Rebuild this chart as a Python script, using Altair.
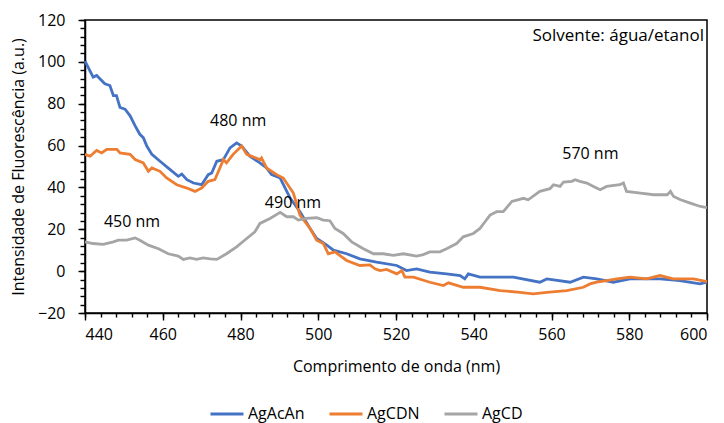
import altair as alt
import pandas as pd

# AgAcAn (blue)
acan_x = [440, 442.1, 443, 445.1, 446.4, 447.3, 448.1, 449, 450.3, 451.6, 452.9, 454.1, 455, 455.9,
          457.2, 459.3, 461.9, 464, 464.9, 466.2, 467.9, 470, 471.7, 472.6, 473.9, 475.6, 477.3, 479,
          480.3, 482.4, 485, 486.7, 488, 490.2, 492.8, 495.3, 497.9, 499.6, 502.2, 503.9, 507.3,
          510.7, 515, 520.2, 522.7, 525.3, 528.7, 533, 536.5, 537.7, 538.6, 541.6, 545.9, 550.2,
          557, 558.8, 564.8, 568.2, 571.6, 575.9, 580.2, 587.9, 593, 598.2, 600]
acan_y = [100.4, 92.7, 93.5, 89.5, 88.7, 83.9, 83.9, 78.2, 77.4, 74.2, 69.4, 65.4, 63.8, 59.8,
          55.8, 52.5, 48.5, 45.3, 46.4, 43.7, 42.1, 41.3, 46.1, 46.9, 52.5, 53.3, 58.9, 61.3,
          59.8, 54.9, 51.7, 49.3, 46.1, 44.5, 34.8, 28.4, 20.4, 15.6, 12.4, 10.0, 8.3,
          5.9, 4.3, 2.7, 0.3, 1.1, -0.5, -1.3, -2.1, -3.7, -1.3, -2.9, -2.9, -2.9,
          -5.3, -3.7, -5.3, -2.9, -3.7, -5.3, -3.7, -3.7, -4.5, -6.1, -5.3]

# AgCDN (orange)
cdn_x = [440, 441.3, 443, 444.3, 445.6, 448.2, 449, 451.6, 452.9, 455, 456.3, 457.2, 459.3, 461,
         463.6, 466.2, 468.3, 470, 471.7, 473.4, 474.7, 475.6, 476.4, 478.1, 480.3, 481.6, 485,
         485.4, 486.7, 489.3, 491, 493.6, 495.3, 497.9, 499.6, 501.3, 502.6, 504.3, 507.3, 510.7,
         513.3, 514.6, 515.9, 517.6, 520.2, 521.5, 522.3, 524.5, 528.7, 532.2, 533.5, 537.3,
         541.6, 546.8, 551.9, 555.3, 558.8, 563.9, 568.2, 569.9, 571.6, 574.2, 576.8, 580.2,
         584.5, 587.9, 591.3, 596.5, 600]
cdn_y = [55.8, 54.9, 57.7, 56.5, 58.2, 58.2, 56.5, 55.8, 53.3, 51.7, 47.7, 49.3, 47.7, 44.5,
         41.3, 39.7, 38.1, 39.7, 42.9, 43.7, 49.3, 53.3, 51.7, 55.8, 59.8, 55.8, 53.3,
         54.1, 49.3, 46.1, 44.5, 37.3, 26.8, 20.4, 14.8, 13.2, 8.3, 9.2, 5.1, 2.7,
         3.0, 1.1, 0.3, 0.8, -1.3, 0.3, -2.9, -2.9, -5.3, -6.9, -5.6, -7.7,
         -7.7, -9.3, -10.1, -10.9, -10.1, -9.3, -7.7, -6.1, -5.3, -4.5, -3.7, -2.9,
         -3.7, -2.1, -3.7, -3.7, -5.0]

# AgCD (gray)
cd_x = [440, 442.1, 444.7, 447.3, 448.6, 450.7, 452.9, 454.1, 456.3, 458.9, 461.4, 464, 465.3,
        467, 468.7, 470.4, 472.2, 473.9, 476.4, 479, 481.6, 483.7, 485, 487.6, 490.2, 491.9,
        493.6, 494.9, 497, 499.6, 501.3, 503, 504.3, 506.4, 508.6, 511.6, 514.2, 516.7, 519.3,
        521.9, 525.3, 527, 528.7, 531.3, 533, 535.6, 537.3, 539.9, 541.6, 542.9, 544.2, 545.9,
        547.6, 549.8, 552.8, 554, 557, 559.6, 560.5, 562.2, 563.1, 565.2, 566.1, 567.3, 569.1,
        570.8, 572.5, 574.2, 577.6, 578.5, 579.3, 582.9, 586.3, 589.8, 590.6, 591.4, 593.2,
        595.7, 598.3, 600]
cd_y = [14.0, 13.2, 12.8, 14.0, 14.8, 14.8, 15.9, 14.8, 12.4, 10.7, 8.3, 7.2, 5.6,
        6.3, 5.6, 6.3, 5.9, 5.6, 8.3, 11.6, 15.6, 18.8, 22.8, 25.2, 28.1, 26.0,
        26.0, 24.4, 25.2, 25.5, 24.4, 24.1, 20.4, 18.0, 14.0, 10.7, 8.3, 8.3, 7.5,
        8.3, 7.2, 7.9, 9.2, 9.2, 10.7, 13.2, 16.4, 18.0, 20.4, 23.6, 26.8, 28.4,
        28.4, 33.3, 34.8, 34.1, 38.1, 39.4, 41.3, 40.5, 42.6, 42.9, 43.7, 42.9, 42.1,
        40.5, 38.9, 40.5, 41.3, 42.1, 38.1, 37.3, 36.5, 36.5, 38.1, 35.7, 34.1,
        32.5, 30.9, 30.4]

series_names = ["AgAcAn", "AgCDN", "AgCD"]
series_colors = ["#4472C4", "#ED7D31", "#A5A5A5"]

ann_text = ["480 nm", "490 nm", "450 nm", "570 nm"]
ann_x = [479.4, 493.5, 452.1, 570.0]
ann_y = [71.8, 32.4, 23.6, 56.2]

x_major = [440, 460, 480, 500, 520, 540, 560, 580, 600]
y_major = [-20, 0, 20, 40, 60, 80, 100, 120]
x_minor = list(range(440, 601, 4))
y_minor = list(range(-20, 121, 4))

rows = []
for name, xs_, ys_ in [("AgAcAn", acan_x, acan_y), ("AgCDN", cdn_x, cdn_y), ("AgCD", cd_x, cd_y)]:
    for i, (a, b) in enumerate(zip(xs_, ys_)):
        rows.append({"serie": name, "wl": a, "val": b, "ord": i})
df = pd.DataFrame(rows)
ann = pd.DataFrame({"t": ann_text, "x": ann_x, "y": ann_y})
solv = pd.DataFrame({"t": ["Solvente: água/etanol"], "x": [600], "y": [112.3]})

FONT = "Open Sans"
xs = alt.Scale(domain=[440, 600], nice=False)
ys = alt.Scale(domain=[-20, 120], nice=False)

lines = alt.Chart(df).mark_line(strokeWidth=2.8).encode(
    x=alt.X("wl:Q", scale=xs, axis=alt.Axis(values=x_major, title="Comprimento de onda (nm)", orient="bottom",
                                            tickSize=7, labelPadding=6, titlePadding=16)),
    y=alt.Y("val:Q", scale=ys, axis=alt.Axis(values=y_major, title="Intensidade de Fluorescência (a.u.)",
                                             orient="left", tickSize=7, labelPadding=13, titlePadding=11)),
    color=alt.Color("serie:N", sort=series_names,
                    scale=alt.Scale(domain=series_names, range=series_colors),
                    legend=alt.Legend(title=None, orient="none", direction="horizontal",
                                      legendX=124, legendY=376, symbolType="stroke",
                                      symbolSize=1089, symbolStrokeWidth=3, columnPadding=18,
                                      labelOffset=3, labelFontSize=16, labelFont=FONT,
                                      labelColor="black")),
    order="ord:Q",
)

minor = alt.Chart(pd.DataFrame({"wl": [440], "val": [0]})).mark_point(opacity=0).encode(
    x=alt.X("wl:Q", scale=xs, axis=alt.Axis(values=x_minor, labels=False, title=None, domain=False,
                                            orient="bottom", tickSize=4, grid=False)),
    y=alt.Y("val:Q", scale=ys, axis=alt.Axis(values=y_minor, labels=False, title=None, domain=False,
                                             orient="left", tickSize=5, grid=False)),
)

texts = alt.Chart(ann).mark_text(font=FONT, fontSize=16, color="black").encode(
    x=alt.X("x:Q", scale=xs, axis=None), y=alt.Y("y:Q", scale=ys, axis=None), text="t:N")

solvtext = alt.Chart(solv).mark_text(font=FONT, fontSize=17, color="black", align="right", dx=-3).encode(
    x=alt.X("x:Q", scale=xs, axis=None), y=alt.Y("y:Q", scale=ys, axis=None), text="t:N")

chart = alt.layer(lines, minor, texts, solvtext).resolve_axis(
    x="independent", y="independent"
).properties(
    width=622, height=293,
    autosize=alt.AutoSizeParams(type="none"),
    padding={"left": 77, "top": 12, "right": 9, "bottom": 110},
).configure_view(stroke="black", strokeWidth=1.5).configure_axis(
    domainColor="black", domainWidth=1.5, tickColor="black", tickWidth=1.4,
    labelFont=FONT, labelFontSize=16, labelColor="black",
    titleFont=FONT, titleFontSize=16, titleFontWeight="normal", titleColor="black", grid=False,
)

chart.save("out.html", embed_options={"renderer": "svg", "actions": False})
